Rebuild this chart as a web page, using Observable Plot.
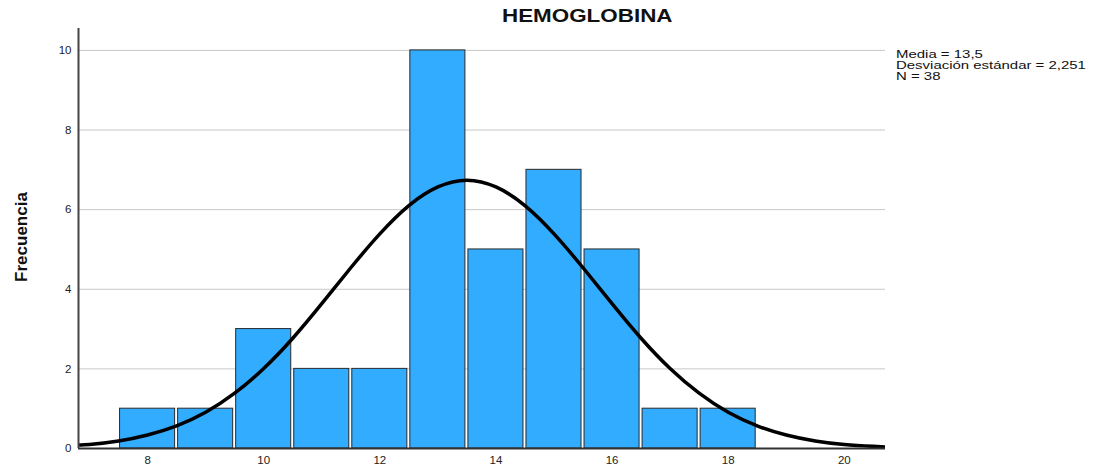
<!DOCTYPE html>
<html>
<head>
<meta charset="utf-8">
<script src="https://cdn.jsdelivr.net/npm/d3@7"></script>
<script src="https://cdn.jsdelivr.net/npm/@observablehq/plot@0.6"></script>
<style>
  html, body { margin: 0; padding: 0; background: #fff; }
  #wrap { position: relative; width: 1105px; height: 470px; font-family: "Liberation Sans", Arial, sans-serif; }
  #title { position: absolute; left: 502px; top: 6px; font-size: 17.5px; font-weight: bold; color: #111; white-space: nowrap; transform: scaleX(1.28); transform-origin: left top; }
  #stats { position: absolute; left: 896px; top: 49px; font-size: 11.5px; line-height: 10.8px; color: #111; white-space: nowrap; transform: scaleX(1.3); transform-origin: left top; }
  #ylab { position: absolute; left: 22px; top: 237px; transform: translate(-50%, -50%) rotate(-90deg); font-family: "Liberation Sans Narrow", "Liberation Sans", Arial, sans-serif; font-size: 17px; font-weight: bold; color: #111; white-space: nowrap; }
  #chart { position: absolute; left: 0; top: 0; }
</style>
</head>
<body>
<div id="wrap">
  <div id="chart"></div>
  <div id="title">HEMOGLOBINA</div>
  <div id="stats">Media = 13,5<br>Desviación estándar = 2,251<br>N = 38</div>
  <div id="ylab">Frecuencia</div>
</div>
<script>
// Histogram bins (bin centers, width 1) and frequencies
const binCenters = [8, 9, 10, 11, 12, 13, 14, 15, 16, 17, 18];
const frequencies = [1, 1, 3, 2, 2, 10, 5, 7, 5, 1, 1];

// Normal curve
const curveX = [6.81, 7, 7.5, 8, 8.5, 9, 9.5, 10, 10.5, 11, 11.5, 12, 12.5, 13, 13.5, 14, 14.5, 15, 15.5, 16, 16.5, 17, 17.5, 18, 18.5, 19, 19.5, 20, 20.5, 20.71];
const curveY = [0.09, 0.10, 0.19, 0.34, 0.57, 0.91, 1.39, 2.01, 2.77, 3.64, 4.54, 5.39, 6.10, 6.57, 6.74, 6.57, 6.10, 5.39, 4.54, 3.64, 2.77, 2.01, 1.39, 0.91, 0.57, 0.34, 0.19, 0.10, 0.054, 0.04];

const xTicks = [8, 10, 12, 14, 16, 18, 20];
const yTicks = [0, 2, 4, 6, 8, 10];
const xDomain = [6.81, 20.71];
const yDomain = [0, 10.55];

const bars = binCenters.map((c, i) => ({x1: c - 0.5, x2: c + 0.5, y: frequencies[i]}));
const curve = curveX.map((x, i) => ({x, y: curveY[i]}));

const chart = Plot.plot({
  width: 1105,
  height: 470,
  marginLeft: 78,
  marginRight: 220,
  marginTop: 28,
  marginBottom: 22,
  style: {fontFamily: "'Liberation Sans', Arial, sans-serif", fontSize: "11.5px", color: "#222", background: "white"},
  x: {domain: xDomain},
  y: {domain: yDomain},
  marks: [
    Plot.gridY(yTicks.filter(d => d > 0), {stroke: "#c8c8c8", strokeOpacity: 1, strokeWidth: 1}),
    Plot.rectY(bars, {x1: "x1", x2: "x2", y: "y", fill: "#31acff", stroke: "#2a2a2a", strokeWidth: 1, insetLeft: 1.5, insetRight: 1.5}),
    Plot.line(curve, {x: "x", y: "y", stroke: "black", strokeWidth: 3.5, curve: "natural", clip: true}),
    Plot.ruleY([0], {stroke: "#333", strokeWidth: 2}),
    Plot.ruleX([xDomain[0]], {y1: 0, y2: yDomain[1], stroke: "#444", strokeWidth: 2}),
    Plot.axisX({ticks: xTicks, tickSize: 0, tickPadding: 7, label: null, tickFormat: d => String(d)}),
    Plot.axisY({ticks: yTicks, tickSize: 0, tickPadding: 7, label: null, tickFormat: d => String(d)})
  ]
});
document.getElementById("chart").appendChild(chart);
</script>
</body>
</html>
